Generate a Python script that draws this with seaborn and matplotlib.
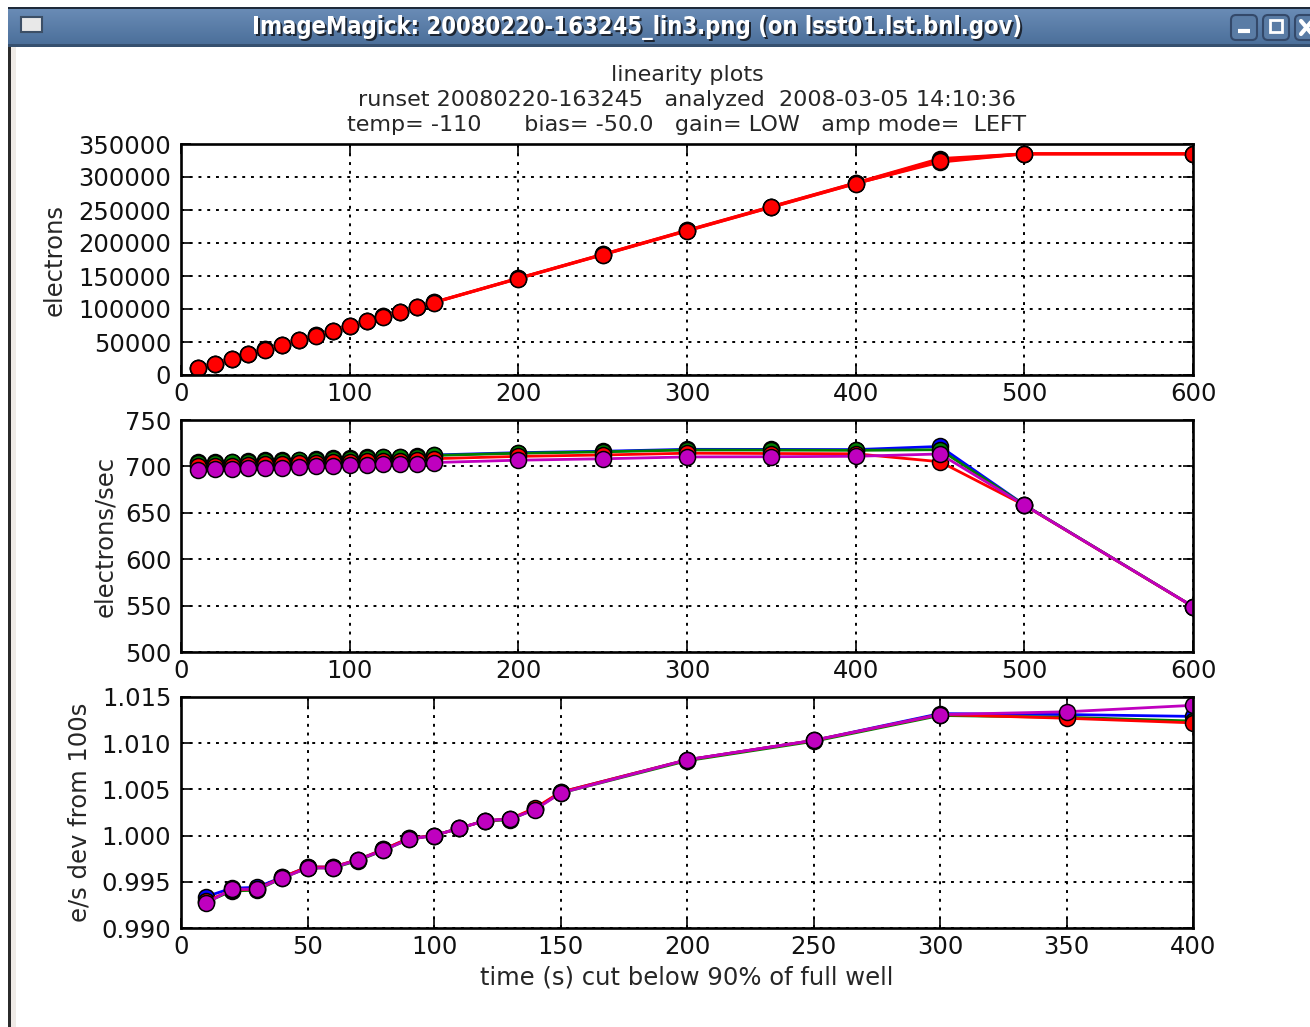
import numpy as np
import pandas as pd
import matplotlib
matplotlib.use("Agg")
import matplotlib.pyplot as plt
import seaborn as sns
from matplotlib.patches import Rectangle, FancyBboxPatch
from matplotlib.ticker import FormatStrFormatter, MultipleLocator

# ---- exposure times (s) ----
times = [10, 20, 30, 40, 50, 60, 70, 80, 90, 100, 110, 120, 130, 140, 150,
         200, 250, 300, 350, 400, 450, 500, 600]

# ---- integrated signal per amplifier (electrons) ----
elec_b = [10300, 17400, 24400, 31600, 38800, 45800, 53000, 60100, 67300, 74500,
          81700, 88800, 96000, 103200, 110400, 146800, 182900, 219400, 255300,
          291200, 328000, 335200, 335200]
elec_g = [10200, 17300, 24300, 31500, 38700, 45700, 52900, 60000, 67200, 74400,
          81600, 88700, 95900, 103100, 110200, 146600, 182700, 219100, 255000,
          290900, 326500, 335100, 335100]
elec_r = [10100, 17200, 24200, 31400, 38500, 45500, 52700, 59800, 66900, 74100,
          81300, 88400, 95500, 102700, 109800, 146200, 182200, 218500, 254300,
          290100, 322500, 335000, 335000]
elec_m = [10000, 17100, 24100, 31300, 38400, 45400, 52500, 59600, 66800, 73900,
          81100, 88200, 95300, 102500, 109600, 145900, 181900, 218200, 254000,
          289800, 324000, 335000, 335000]

# ---- signal rate per amplifier (electrons/sec) ----
rate_b = [704.3, 705.0, 705.1, 705.8, 706.6, 706.6, 707.2, 708.0, 708.8, 709.0,
          709.6, 710.1, 710.3, 711.1, 712.3, 714.8, 716.3, 718.4, 718.3, 718.1,
          721.5, 658.6, 549.0]
rate_g = [703.4, 704.2, 704.3, 705.2, 706.0, 706.0, 706.6, 707.4, 708.2, 708.5,
          709.1, 709.6, 709.7, 710.6, 711.8, 714.2, 715.7, 717.7, 717.6, 717.3,
          718.0, 658.5, 549.0]
rate_r = [700.0, 700.8, 700.9, 701.8, 702.6, 702.6, 703.2, 703.9, 704.8, 705.0,
          705.6, 706.1, 706.3, 707.1, 708.3, 710.8, 712.3, 714.2, 713.9, 713.6,
          705.0, 658.2, 548.9]
rate_m = [695.9, 696.9, 696.9, 697.8, 698.5, 698.5, 699.2, 699.9, 700.7, 701.0,
          701.6, 702.1, 702.3, 703.0, 704.2, 706.7, 708.2, 710.2, 710.4, 710.9,
          713.4, 658.3, 549.0]

# ---- rate relative to the 100 s exposure (times up to 400 s) ----
dev_times = times[:20]
dev_b = [0.9934, 0.9943, 0.9944, 0.9955, 0.9966, 0.9966, 0.9974, 0.9985, 0.9997, 1.0000,
         1.0008, 1.0016, 1.0018, 1.0029, 1.0047, 1.0082, 1.0103, 1.0132, 1.0131, 1.0129]
dev_g = [0.9928, 0.9940, 0.9941, 0.9954, 0.9965, 0.9965, 0.9973, 0.9984, 0.9996, 1.0000,
         1.0008, 1.0016, 1.0017, 1.0029, 1.0046, 1.0081, 1.0102, 1.0130, 1.0128, 1.0124]
dev_r = [0.9929, 0.9941, 0.9942, 0.9955, 0.9966, 0.9966, 0.9974, 0.9985, 0.9997, 1.0000,
         1.0008, 1.0016, 1.0018, 1.0030, 1.0047, 1.0082, 1.0103, 1.0131, 1.0127, 1.0122]
dev_m = [0.9927, 0.9942, 0.9942, 0.9954, 0.9965, 0.9965, 0.9974, 0.9984, 0.9996, 1.0000,
         1.0008, 1.0016, 1.0018, 1.0028, 1.0046, 1.0082, 1.0103, 1.0131, 1.0134, 1.0141]

amps = ["amp0", "amp1", "amp2", "amp3"]
amp_colors = {"amp0": "#0000ff", "amp1": "#008000", "amp2": "#ff0000", "amp3": "#bf00bf"}

title_lines = ["linearity plots",
               "runset 20080220-163245   analyzed  2008-03-05 14:10:36",
               "temp= -110      bias= -50.0   gain= LOW   amp mode=  LEFT"]
window_title = "ImageMagick: 20080220-163245_lin3.png (on lsst01.lst.bnl.gov)"

# ---- long-form tables ----
full = pd.DataFrame({
    "t": times * 4,
    "amp": sum([[a] * len(times) for a in amps], []),
    "electrons": elec_b + elec_g + elec_r + elec_m,
    "rate": rate_b + rate_g + rate_r + rate_m,
})
dev = pd.DataFrame({
    "t": dev_times * 4,
    "amp": sum([[a] * len(dev_times) for a in amps], []),
    "dev": dev_b + dev_g + dev_r + dev_m,
})

sns.set_theme(style="white")
plt.rcParams["font.family"] = ["DejaVu Sans"]
plt.rcParams["axes.unicode_minus"] = False

W, H = 1310, 1027
fig = plt.figure(figsize=(W / 100, H / 100), dpi=100, facecolor="white")

# ---- window frame ----
chrome = fig.add_axes([0, 0, 1, 1], zorder=-5)
chrome.set_xlim(0, W)
chrome.set_ylim(H, 0)
chrome.axis("off")
chrome.add_patch(Rectangle((9, 45), 7, H - 45, color="#efebe7", lw=0))
chrome.add_patch(Rectangle((8, 45), 2.5, H - 45, color="#2b2b2b", lw=0))
grad = np.linspace(0, 1, 64).reshape(-1, 1)
chrome.imshow(grad, extent=(8, W, 45, 8), cmap=matplotlib.colors.LinearSegmentedColormap.from_list(
    "bar", ["#6a8cb6", "#4b6f9a"]), aspect="auto", zorder=1)
chrome.add_patch(Rectangle((8, 44), W, 2.5, color="#36506f", lw=0, zorder=2))
chrome.add_patch(Rectangle((8, 7), W, 1.5, color="#1e2a3a", lw=0, zorder=2))
chrome.add_patch(FancyBboxPatch((21, 17), 21, 15, boxstyle="square,pad=0",
                                fc="#e8e8e8", ec="#3c4f66", lw=1.5, zorder=3))
for bx in (1231, 1263, 1295):
    chrome.add_patch(FancyBboxPatch((bx, 15), 26, 25, boxstyle="round,pad=0,rounding_size=5",
                                    fc="#5a7ca5", ec="#34496a", lw=1.5, zorder=3))
chrome.plot([1238, 1250], [31, 31], color="white", lw=3, zorder=4, solid_capstyle="butt")
chrome.add_patch(Rectangle((1270, 20), 12, 12, fc="none", ec="white", lw=2, zorder=4))
chrome.plot([1301, 1312], [21, 34], color="white", lw=3, zorder=4)
chrome.plot([1301, 1312], [34, 21], color="white", lw=3, zorder=4)
chrome.text(639, 29, window_title, color="#1d2633", fontsize=17, fontweight="bold",
            fontstretch="condensed", ha="center", va="center", zorder=3)
chrome.text(637, 27, window_title, color="white", fontsize=17, fontweight="bold",
            fontstretch="condensed", ha="center", va="center", zorder=4)

# ---- figure title ----
for i, line in enumerate(title_lines):
    fig.text(687 / W, 1 - (75 + 25 * i) / H, line, ha="center", va="center", fontsize=16)

left, width = 181 / W, (1193 - 181) / W
boxes = [(144, 375), (420, 652), (697, 928)]
axes = [fig.add_axes([left, 1 - b / H, width, (b - t) / H]) for t, b in boxes]

line_kw = dict(marker="o", markersize=11.5, markeredgecolor="black", markeredgewidth=1.1,
               linewidth=2.0, estimator=None, sort=False, legend=False)

# top: electrons (all amps drawn red)
sns.lineplot(data=full, x="t", y="electrons", hue="amp", hue_order=amps,
             palette={a: "#ff0000" for a in amps}, ax=axes[0], **line_kw)
axes[0].set_xlim(0, 600)
axes[0].set_ylim(0, 350000)
axes[0].yaxis.set_major_locator(MultipleLocator(50000))
axes[0].yaxis.set_major_formatter(FormatStrFormatter("%d"))
axes[0].set_ylabel("electrons")

# middle: electrons/sec
sns.lineplot(data=full, x="t", y="rate", hue="amp", hue_order=amps,
             palette=amp_colors, ax=axes[1], **line_kw)
axes[1].set_xlim(0, 600)
axes[1].set_ylim(500, 750)
axes[1].yaxis.set_major_locator(MultipleLocator(50))
axes[1].set_ylabel("electrons/sec")

# bottom: deviation from 100 s rate
sns.lineplot(data=dev, x="t", y="dev", hue="amp", hue_order=amps,
             palette=amp_colors, ax=axes[2], **line_kw)
axes[2].set_xlim(0, 400)
axes[2].set_ylim(0.990, 1.015)
axes[2].yaxis.set_major_locator(MultipleLocator(0.005))
axes[2].yaxis.set_major_formatter(FormatStrFormatter("%.3f"))
axes[2].set_ylabel("e/s dev from 100s")
axes[2].set_xlabel("time (s) cut below 90% of full well", fontsize=17.5, labelpad=5)

label_x = [-0.113, -0.063, -0.088]
for ax, lx in zip(axes, label_x):
    ax.xaxis.set_major_locator(MultipleLocator(100 if ax is not axes[2] else 50))
    if ax is not axes[2]:
        ax.set_xlabel("")
    ax.yaxis.label.set_fontsize(17.5)
    ax.yaxis.set_label_coords(lx, 0.5)
    ax.grid(True, color="black", linestyle=(0, (1.5, 3.0)), linewidth=1.4)
    ax.set_axisbelow(True)
    for s in ax.spines.values():
        s.set_visible(True)
        s.set_color("black")
        s.set_linewidth(1.9)
    ax.tick_params(direction="in", length=7, width=1.2, color="black",
                   top=True, right=True, bottom=True, left=True,
                   labelsize=17.5, labelcolor="#111111")
    ax.tick_params(axis="x", pad=5)
    ax.tick_params(axis="y", pad=7)
    ax.set_facecolor("white")

fig.savefig("out.png", dpi=100, facecolor="white")
